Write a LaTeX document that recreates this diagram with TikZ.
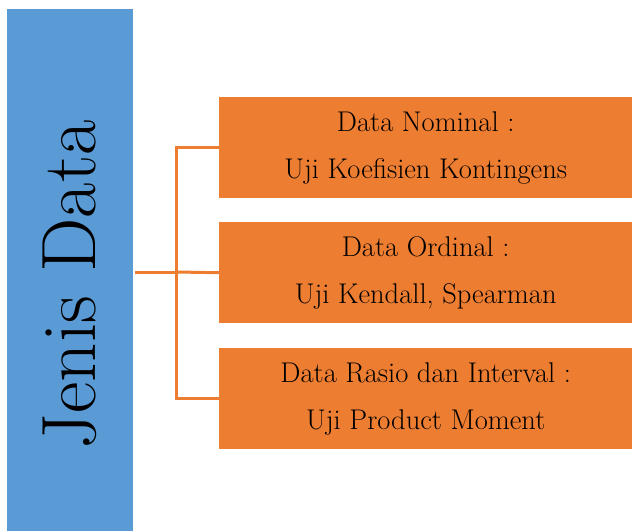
\documentclass[tikz,border=0pt]{standalone}
\tikzset{
  bluebar/.style={fill=blueC, draw=none},
  orangebox/.style={fill=orangeC, draw=none, minimum width=413pt, minimum height=101pt, inner sep=0pt, align=center, font=\fontsize{28.5}{47}\selectfont, text=black},
  conn/.style={draw=orangeC, line width=3pt}
}
\definecolor{blueC}{HTML}{5B9BD5}
\definecolor{orangeC}{HTML}{ED7D31}
\begin{document}
\begin{tikzpicture}[x=1pt,y=-1pt]
\useasboundingbox (0,0) rectangle (632,531);
\fill[bluebar] (7,9) rectangle (133,531);
\node[rotate=90, font=\fontsize{77}{80}\selectfont, inner sep=0pt] (jd) at (70,285) {Jenis Data};
\coordinate (src) at (135,272);
\coordinate (hub) at (176,272);
\node[orangebox, anchor=north west] (b1) at (219,97) {Data Nominal :\\Uji Koefisien Kontingens};
\node[orangebox, anchor=north west] (b2) at (219,222) {Data Ordinal :\\Uji Kendall, Spearman};
\node[orangebox, anchor=north west] (b3) at (219,348) {Data Rasio dan Interval :\\Uji Product Moment};
\draw[conn] (src) -- (hub);
\draw[conn] (b1.west) -| (hub) |- (b3.west);
\draw[conn] (hub) -- (b2.west);
\end{tikzpicture}
\end{document}
